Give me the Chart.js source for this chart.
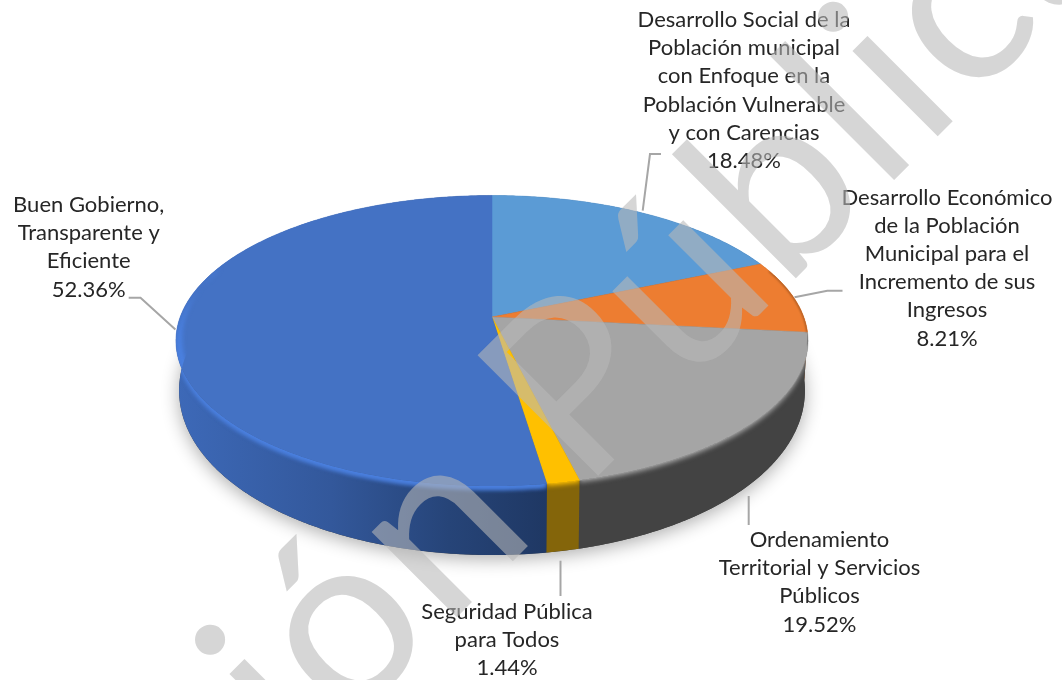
<!DOCTYPE html>
<html>
<head>
<meta charset="utf-8">
<title>Pie</title>
<script src="https://cdn.jsdelivr.net/npm/chart.js@4/dist/chart.umd.min.js"></script>
<style>
    html, body { margin: 0; padding: 0; background: #fff; }
    canvas { display: block; }
</style>
</head>
<body>
<canvas id="pie" width="1062" height="680"></canvas>
<script>
// datos, en sentido horario desde las 12
const categories = [
    ['Desarrollo Social de la', 'Población municipal', 'con Enfoque en la', 'Población Vulnerable', 'y con Carencias'],
    ['Desarrollo Económico', 'de la Población', 'Municipal para el', 'Incremento de sus', 'Ingresos'],
    ['Ordenamiento', 'Territorial y Servicios', 'Públicos'],
    ['Seguridad Pública', 'para Todos'],
    ['Buen Gobierno,', 'Transparente y', 'Eficiente']
];
const values = [18.48, 8.21, 19.52, 1.44, 52.36];

const faceColors = ['#5b9bd5', '#ed7d31', '#a5a5a5', '#ffc000', '#4472c4'];
const sideColors = ['#2e5f8f', '#8a4a1a', '#434343', '#84650a', null];

// posicion de etiquetas y lineas guia
const labelX = [744, 947, 819.5, 507, 88.7];
const labelY = [20, 197.5, 540, 611.5, 205];
const linePitch = 28.2;
const leaders = [
    [[661, 154], [650, 154], [642.7, 210.7]],
    [[842.5, 290.7], [827.3, 290.7], [794.5, 297.3]],
    [[748.7, 496], [748.7, 525]],
    [[560.5, 560.7], [560.5, 596]],
    [[128.7, 297.7], [140.5, 297.7], [175.4, 329.5]]
];

// marca de agua: palabra y desplazamiento sobre la linea base
const watermarkWords = ['ión', 'Pública'];
const watermarkOffset = [0, 397];

// perspectiva de la tapa
const CX = 492, CY = 317, A = 311.8, H = 141.4, P = 0.1635;

function project(a) {
    const u = Math.cos(a), v = -Math.sin(a), w = 1 + P * v;
    return { x: CX + A * u / w, y: CY - H * v / w, v: v };
}

function arcPoints(start, end) {
    const pts = [];
    const steps = Math.max(2, Math.ceil((end - start) / 0.01));
    for (let i = 0; i <= steps; i++) {
        pts.push(project(start + (end - start) * i / steps));
    }
    return pts;
}

function lower(p) {
    return { x: CX + (p.x - CX) * 0.99, y: p.y + 46 - 23 * p.v };
}

function tracePoints(ctx, pts) {
    pts.forEach((p, i) => {
        if (i === 0) ctx.moveTo(p.x, p.y); else ctx.lineTo(p.x, p.y);
    });
}

function fillBand(ctx, outer, inner) {
    ctx.beginPath();
    tracePoints(ctx, outer);
    inner.slice().reverse().forEach(q => ctx.lineTo(q.x, q.y));
    ctx.closePath();
    ctx.fill();
}

const pie3d = {
    id: 'pie3d',
    beforeDatasetsDraw(chart) {
        const ctx = chart.ctx;
        const arcs = chart.getDatasetMeta(0).data;

        // sombra
        ctx.save();
        ctx.shadowColor = 'rgba(0,0,0,0.32)';
        ctx.shadowBlur = 18;
        ctx.shadowOffsetY = 4;
        ctx.fillStyle = '#404040';
        ctx.beginPath();
        tracePoints(ctx, arcPoints(0, Math.PI * 2).map(lower));
        ctx.closePath();
        ctx.fill();
        ctx.restore();

        const blueSide = ctx.createLinearGradient(176, 0, 545, 0);
        blueSide.addColorStop(0, '#3d69b8');
        blueSide.addColorStop(0.42, '#33589b');
        blueSide.addColorStop(0.74, '#264478');
        blueSide.addColorStop(1, '#1f3864');

        // paredes
        arcs.forEach((arc, i) => {
            const pts = arcPoints(arc.startAngle, arc.endAngle);
            ctx.fillStyle = sideColors[i] || blueSide;
            fillBand(ctx, pts, pts.map(lower));
        });

        // tapa
        arcs.forEach((arc, i) => {
            const pts = arcPoints(arc.startAngle, arc.endAngle);
            ctx.fillStyle = faceColors[i];
            ctx.strokeStyle = faceColors[i];
            ctx.lineWidth = 0.5;
            ctx.beginPath();
            ctx.moveTo(CX, CY);
            pts.forEach(p => ctx.lineTo(p.x, p.y));
            ctx.closePath();
            ctx.fill();
            ctx.stroke();
        });

        // borde: difuminado recortado a cada porcion
        arcs.forEach((arc, i) => {
            const pts = arcPoints(arc.startAngle, arc.endAngle);
            const front = pts.filter(p => p.v < 0.35);
            if (front.length < 2) return;
            ctx.save();
            ctx.beginPath();
            ctx.moveTo(CX, CY);
            tracePoints(ctx, pts);
            pts.slice().reverse().map(lower).forEach(q => ctx.lineTo(q.x, q.y));
            ctx.closePath();
            ctx.clip();

            if (sideColors[i]) {
                // linea oscura en la zona casi vertical
                ctx.filter = 'blur(1px)';
                ctx.strokeStyle = sideColors[i];
                ctx.lineWidth = 1.5;
                ctx.beginPath();
                tracePoints(ctx, front.filter(p => p.v > -0.2));
                ctx.stroke();
            }

            ctx.filter = 'blur(2.5px)';
            ctx.fillStyle = faceColors[i];
            const rimLow = front.filter(p => p.v < -0.1);
            if (rimLow.length > 1) {
                fillBand(ctx, rimLow.map(p => ({ x: p.x, y: p.y + 2 })), rimLow.map(p => ({ x: p.x, y: p.y - 8 })));
            }

            if (!sideColors[i]) {
                // brillo del azul
                ctx.filter = 'blur(2px)';
                ctx.fillStyle = '#4a80e0';
                fillBand(ctx, front.map(p => ({ x: p.x, y: p.y + 4 })), front.map(p => ({ x: CX + (p.x - CX) * 0.98, y: p.y - 3 })));
            }
            ctx.restore();
        });
        return false;
    },
    afterDraw(chart) {
        const ctx = chart.ctx;

        // lineas guia
        ctx.save();
        ctx.strokeStyle = '#a6a6a6';
        ctx.lineWidth = 2;
        leaders.forEach(pts => {
            ctx.beginPath();
            pts.forEach((p, i) => {
                if (i === 0) ctx.moveTo(p[0], p[1]); else ctx.lineTo(p[0], p[1]);
            });
            ctx.stroke();
        });

        // etiquetas
        ctx.fillStyle = '#262626';
        ctx.font = '22px Lato';
        ctx.textAlign = 'center';
        ctx.textBaseline = 'middle';
        categories.forEach((lines, i) => {
            const all = lines.concat(values[i].toFixed(2) + '%');
            all.forEach((line, j) => {
                ctx.fillText(line, labelX[i], labelY[i] + j * linePitch);
            });
        });
        ctx.restore();

        // marca de agua encima de todo
        ctx.save();
        ctx.translate(302, 772);
        ctx.rotate(-Math.PI / 4);
        ctx.font = '238px Lato';
        ctx.letterSpacing = '5px';
        ctx.textAlign = 'left';
        ctx.textBaseline = 'alphabetic';
        ctx.fillStyle = 'rgba(184,184,184,0.58)';
        watermarkWords.forEach((word, i) => ctx.fillText(word, watermarkOffset[i], 0));
        ctx.restore();
    }
};

new Chart(document.getElementById('pie').getContext('2d'), {
    type: 'pie',
    data: {
        labels: categories.map(c => c.join(' ')),
        datasets: [{
            data: values,
            backgroundColor: faceColors,
            borderWidth: 0
        }]
    },
    options: {
        responsive: false,
        animation: false,
        plugins: {
            legend: { display: false },
            tooltip: { enabled: false }
        }
    },
    plugins: [pie3d]
});
</script>
</body>
</html>
